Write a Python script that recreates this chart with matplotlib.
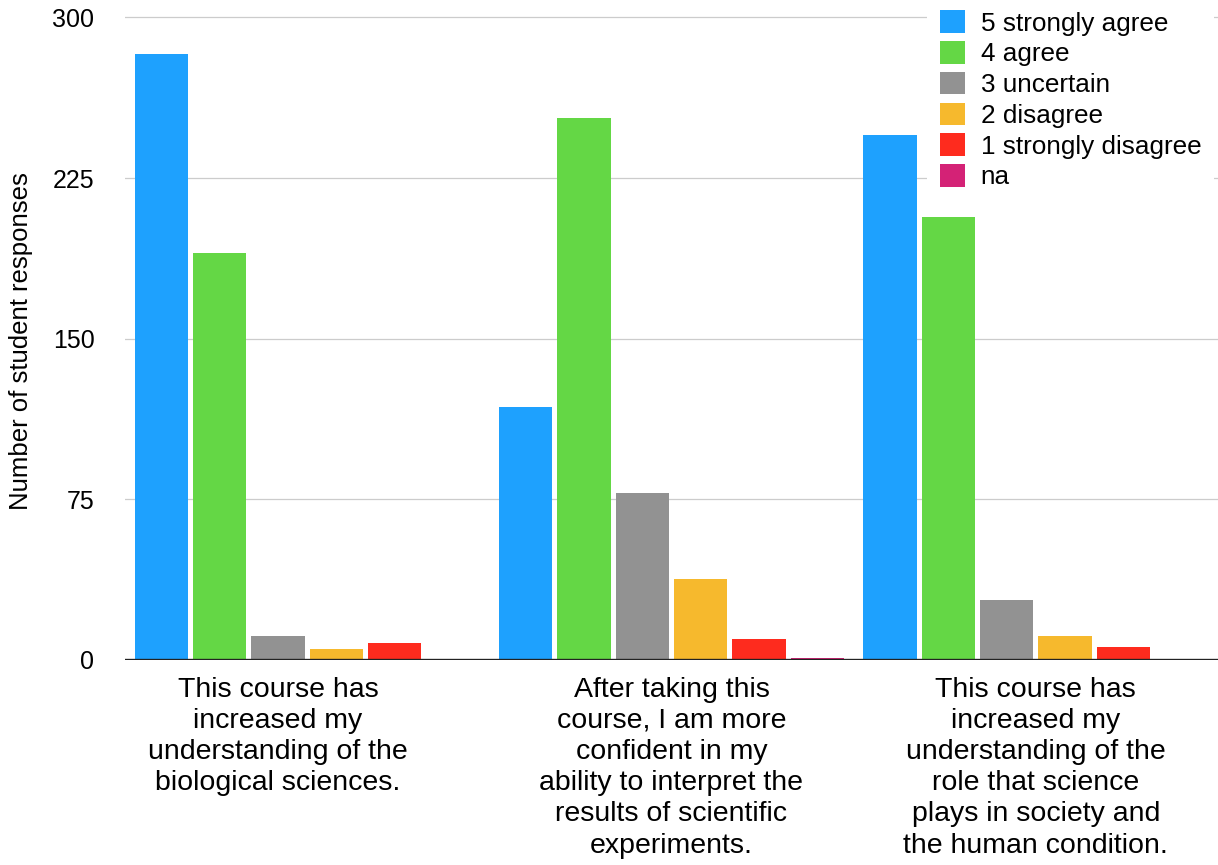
import numpy as np
import matplotlib
matplotlib.use('Agg')
import matplotlib.pyplot as plt

plt.rcParams['font.family'] = ['Liberation Sans', 'DejaVu Sans']

questions = [
    'This course has\nincreased my\nunderstanding of the\nbiological sciences.',
    'After taking this\ncourse, I am more\nconfident in my\nability to interpret the\nresults of scientific\nexperiments.',
    'This course has\nincreased my\nunderstanding of the\nrole that science\nplays in society and\nthe human condition.',
]
responses = ['5 strongly agree', '4 agree', '3 uncertain', '2 disagree',
             '1 strongly disagree', 'na']
colors = ['#1ea1fe', '#64d745', '#929292', '#f6b92d', '#fe2b1e', '#d42276']

# counts per response, one value per question (None = no answer recorded)
strongly_agree = [283, 118, 245]
agree = [190, 253, 207]
uncertain = [11, 78, 28]
disagree = [5, 38, 11]
strongly_disagree = [8, 10, 6]
na = [None, 1, 0]
counts = [strongly_agree, agree, uncertain, disagree, strongly_disagree, na]

yticks = [0, 75, 150, 225, 300]

fig = plt.figure(figsize=(12.18, 8.65), dpi=100)
ax = fig.add_axes([0.1026, 0.237, 0.8974, 0.7478])

x = np.arange(len(questions))
step = 0.16
width = 0.146
n = len(responses)

bars = []
for i, (label, vals, col) in enumerate(zip(responses, counts, colors)):
    offs = (i - (n - 1) / 2) * step
    xs = [xi + offs for xi, v in zip(x, vals) if v is not None]
    hs = [v for v in vals if v is not None]
    b = ax.bar(xs, hs, width=width, color=col, label=label, zorder=3)
    bars.append(b)

# centre each question label under the bars that actually have data
centres = []
for j in range(len(questions)):
    offs = [(i - (n - 1) / 2) * step for i in range(n) if counts[i][j] is not None]
    centres.append(x[j] + np.mean(offs))

ax.set_xlim(-0.5, 2.5)
ax.set_ylim(0, 302)
ax.set_yticks(yticks)
ax.set_yticklabels([str(t) for t in yticks], fontsize=18)
ax.set_xticks(centres)
ax.set_xticklabels(questions, fontsize=20.5, linespacing=1.26, va='top')
ax.tick_params(axis='both', length=0)
ax.tick_params(axis='y', pad=22)
ax.tick_params(axis='x', pad=12)

for s in ax.spines.values():
    s.set_visible(False)
for t in yticks[1:]:
    ax.axhline(t, color='#cccccc', lw=0.9, zorder=1)
ax.axhline(0, color='#222222', lw=1.7, zorder=4)

fig.text(21 / 1218, 0.606, 'Number of student responses', rotation=90,
         ha='center', va='center', fontsize=18.5)

leg = fig.legend(handles=bars, labels=responses, loc='upper left',
                 bbox_to_anchor=((941 - 14) / 1218, 1.003), fontsize=18.8,
                 frameon=True, facecolor='white', edgecolor='none', framealpha=1,
                 borderpad=0.5, borderaxespad=0, handlelength=0.95,
                 handleheight=0.95, handletextpad=0.6, labelspacing=0.21)
leg.get_frame().set_boxstyle('square', pad=0)

fig.savefig('out.png', dpi=100)
